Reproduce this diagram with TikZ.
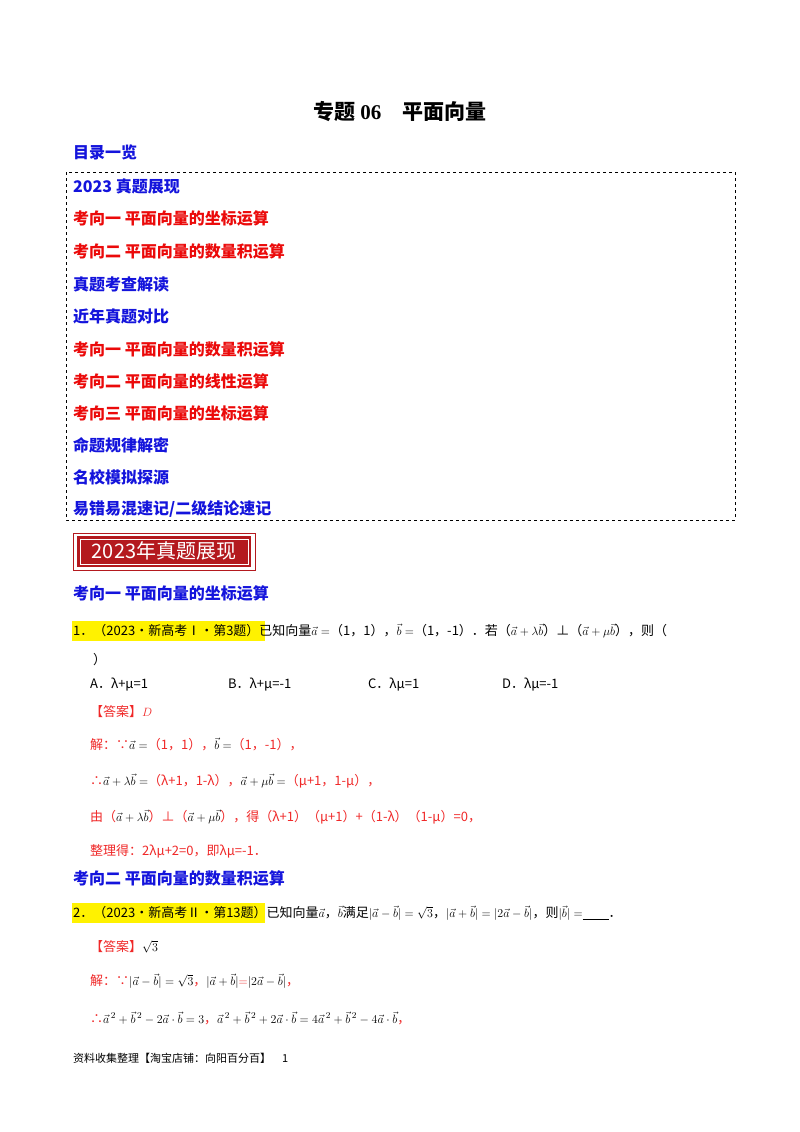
\documentclass[tikz,border=0pt]{standalone}
\usepackage{fontspec}
\setmainfont{Noto Sans CJK SC}
\newfontfamily\srf{Liberation Serif}
\definecolor{cb}{RGB}{20,20,220}
\definecolor{cr}{RGB}{235,10,10}
\definecolor{cr2}{RGB}{240,40,40}
\definecolor{ban}{RGB}{180,25,30}
\begin{document}
\begin{tikzpicture}[x=1pt,y=-1pt,
  toc/.style={anchor=west,inner sep=0,font=\fontsize{16}{18}\selectfont\bfseries},
  tb/.style={toc,text=cb},
  tr/.style={toc,text=cr},
  body/.style={anchor=west,inner sep=0,font=\fontsize{13}{15}\selectfont},
  rb/.style={body,text=cr2},
  hd/.style={anchor=west,inner sep=0,font=\fontsize{16}{18}\selectfont\bfseries,text=cb}]
\useasboundingbox[fill=white] (0,0) rectangle (800,1132);
\node[anchor=center,inner sep=0,font=\fontsize{21}{23}\selectfont\bfseries] (title) at (400,112) {专题 {\srf 06}\quad 平面向量};
\node[hd] (ml) at (73,152) {目录一览};
\draw[dashed,line width=0.8pt] (66,172) rectangle (735,520);
\node[tb] (t1) at (73,186) {2023 真题展现};
\node[tr] (t2) at (73,218) {考向一\ 平面向量的坐标运算};
\node[tr] (t3) at (73,251) {考向二\ 平面向量的数量积运算};
\node[tb] (t4) at (73,284) {真题考查解读};
\node[tb] (t5) at (73,316) {近年真题对比};
\node[tr] (t6) at (73,349) {考向一\ 平面向量的数量积运算};
\node[tr] (t7) at (73,381) {考向二\ 平面向量的线性运算};
\node[tr] (t8) at (73,413) {考向三\ 平面向量的坐标运算};
\node[tb] (t9) at (73,445) {命题规律解密};
\node[tb] (t10) at (73,477) {名校模拟探源};
\node[tb] (t11) at (73,509) {易错易混速记/二级结论速记};
% banner
\fill[ban] (77,536) rectangle (251,567);
\draw[ban,line width=1pt] (73,533) rectangle (255,570);
\draw[white,line width=0.8pt] (80,539) rectangle (248,564);
\node[anchor=center,inner sep=0,text=white,font=\fontsize{20}{22}\selectfont] (bn) at (164,551) {2023年真题展现};
\node[hd] (h1) at (73,593) {考向一\ 平面向量的坐标运算};
\fill[yellow] (72,621) rectangle (265,641);
\node[body] (q1) at (73,631) {1．（2023•新高考Ⅰ•第3题）已知向量$\vec a=$（1，1），$\vec b=$（1，-1）．若（$\vec a+\lambda\vec b$）⊥（$\vec a+\mu\vec b$），则（};
\node[body] (q1b) at (93,660) {）};
\node[body] (oa) at (90,685) {A．λ+μ=1};
\node[body] (ob) at (228,685) {B．λ+μ=-1};
\node[body] (oc) at (368,685) {C．λμ=1};
\node[body] (od) at (502,685) {D．λμ=-1};
\node[rb] (a1) at (90,712) {【答案】$D$};
\node[rb] (s1) at (90,744) {解：∵{\color{black}$\vec a=$}（1，1），{\color{black}$\vec b=$}（1，-1），};
\node[rb] (s2) at (90,781) {∴{\color{black}$\vec a+\lambda\vec b=$}（λ+1，1-λ），{\color{black}$\vec a+\mu\vec b=$}（μ+1，1-μ），};
\node[rb] (s3) at (90,817) {由（{\color{black}$\vec a+\lambda\vec b$}）⊥（{\color{black}$\vec a+\mu\vec b$}），得（λ+1）（μ+1）+（1-λ）（1-μ）=0，};
\node[rb] (s4) at (90,851) {整理得：2λμ+2=0，即λμ=-1．};
\node[hd] (h2) at (73,878) {考向二\ 平面向量的数量积运算};
\fill[yellow] (72,903) rectangle (265,923);
\node[body] (q2) at (73,913) {2．（2023•新高考Ⅱ•第13题）已知向量$\vec a$，$\vec b$满足$|\vec a-\vec b|=\sqrt3$，$|\vec a+\vec b|=|2\vec a-\vec b|$，则$|\vec b|=$\underline{\hspace{2em}}．};
\node[rb] (a2) at (90,947) {【答案】{\color{black}$\sqrt3$}};
\node[rb] (s5) at (90,981) {解：∵{\color{black}$|\vec a-\vec b|=\sqrt3$}，{\color{black}$|\vec a+\vec b|$}$=${\color{black}$|2\vec a-\vec b|$}，};
\node[rb] (s6) at (90,1018) {∴{\color{black}$\vec a^{\,2}+\vec b^{\,2}-2\vec a\cdot\vec b=3$}，{\color{black}$\vec a^{\,2}+\vec b^{\,2}+2\vec a\cdot\vec b=4\vec a^{\,2}+\vec b^{\,2}-4\vec a\cdot\vec b$}，};
\node[body,font=\fontsize{11}{13}\selectfont] (ft) at (73,1058) {资料收集整理【淘宝店铺：向阳百分百】\quad 1};
\end{tikzpicture}
\end{document}
